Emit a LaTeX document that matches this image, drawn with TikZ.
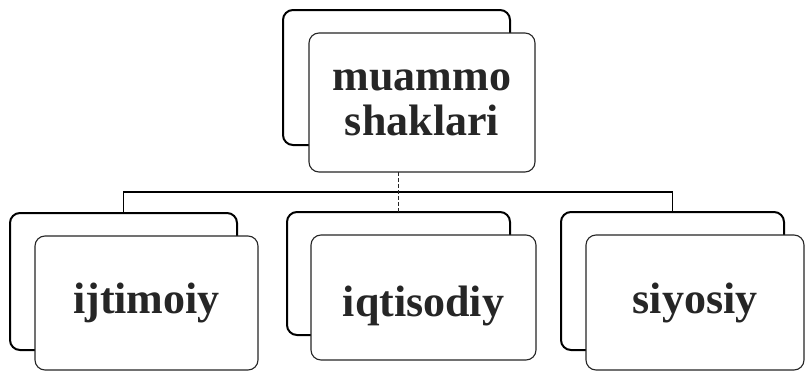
\documentclass[tikz,border=0pt]{standalone}
\usepackage{fontspec}
\setmainfont{Liberation Serif}
\begin{document}
\begin{tikzpicture}[x=1pt,y=-1pt,
  backbox/.style={draw=black, line width=2pt, rounded corners=10pt, fill=white, inner sep=0pt, outer sep=0pt},
  frontbox/.style={draw=black!85, line width=1.1pt, rounded corners=10pt, fill=white, inner sep=0pt, outer sep=0pt,
    font=\fontsize{44}{46}\selectfont\bfseries, text=black!85, align=center},
  bus/.style={line width=1.8pt, black},
  link/.style={line width=1pt, black!85, dash pattern=on 4pt off 2pt}]
\useasboundingbox (0,0) rectangle (806,372);
% top element
\node[backbox, minimum width=227pt, minimum height=135pt] (tb) at (396.5,77.5) {};
\node[frontbox, minimum width=226pt, minimum height=139pt] (tf) at (422,102.5) {muammo\\[-1pt]shaklari};
% children
\node[backbox, minimum width=227pt, minimum height=137pt] (ab) at (123.5,281.5) {};
\node[frontbox, minimum width=223pt, minimum height=134pt] (af) at (146.5,303) {ijtimoiy};
\node[backbox, minimum width=223pt, minimum height=123pt] (bb) at (398.5,273.5) {};
\node[frontbox, minimum width=225pt, minimum height=125pt] (bf) at (423.5,297.5) {\raisebox{-19pt}[0pt][0pt]{iqtisodiy}};
\node[backbox, minimum width=223pt, minimum height=138pt] (cb) at (672.5,281) {};
\node[frontbox, minimum width=218pt, minimum height=135pt] (cf) at (695,302.5) {siyosiy};
% connectors
\coordinate (busl) at (123.5,192);
\coordinate (busr) at (672.5,192);
\draw[bus] (ab.north) -- (busl) -- (busr) -- (cb.north);
\draw[link] (tf.south -| bb.north) -- (bb.north);
\end{tikzpicture}
\end{document}
